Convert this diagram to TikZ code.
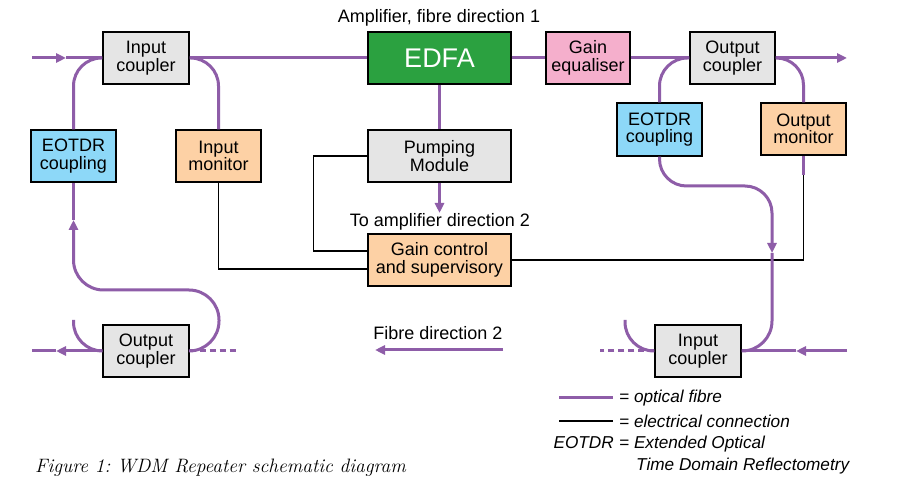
\documentclass[tikz,border=0pt]{standalone}
\usepackage{fontspec}
\setmainfont{Liberation Sans}
\newfontfamily\capfont{Latin Modern Roman}
\usetikzlibrary{arrows.meta}
\definecolor{fib}{HTML}{8E5DA8}
\definecolor{cgray}{HTML}{E5E5E5}
\definecolor{cblue}{HTML}{8DD8F8}
\definecolor{cpeach}{HTML}{FDD1A5}
\definecolor{cpink}{HTML}{F5AFCC}
\definecolor{cgreen}{HTML}{2BA140}
\tikzset{
  box/.style={draw=black, line width=1.3pt, minimum height=52pt, inner sep=0pt, align=center,
    font=\fontsize{18}{17.5}\selectfont},
  fibre/.style={draw=fib, line width=3pt},
  elec/.style={draw=black, line width=1.2pt},
  arr/.style={-{Triangle[length=10pt,width=9pt]}},
  dashfib/.style={fibre, dash pattern=on 6pt off 4pt},
  lbl/.style={font=\fontsize{18}{18}\selectfont, inner sep=0pt},
  leg/.style={font=\fontsize{17.2}{19}\selectfont\itshape, inner sep=0pt}
}
\begin{document}
\frenchspacing
\begin{tikzpicture}[x=1pt,y=-1pt]
\useasboundingbox (0,0) rectangle (903,494);
\fill[white] (0,0) rectangle (903,494);

% boxes
\node[box,fill=cgray,minimum width=86pt] (incL) at (146,58) {Input\\coupler};
\node[box,fill=cblue,minimum width=85pt] (eotdrL) at (73.5,156) {EOTDR\\coupling};
\node[box,fill=cpeach,minimum width=85pt] (inmon) at (218.5,156) {Input\\monitor};
\node[box,fill=cgreen,minimum width=143pt,text=white,font=\fontsize{27}{27}\selectfont] (edfa) at (439.5,58) {EDFA};
\node[box,fill=cgray,minimum width=143pt] (pump) at (439.5,156) {Pumping\\Module};
\node[box,fill=cpeach,minimum width=143pt] (gainctl) at (439.5,260) {Gain control\\and supervisory};
\node[box,fill=cpink,minimum width=84pt] (geq) at (588,58) {Gain\\equaliser};
\node[box,fill=cgray,minimum width=85pt] (outcT) at (732.5,58) {Output\\coupler};
\node[box,fill=cblue,minimum width=85pt,minimum height=53pt] (eotdrR) at (659.5,129.5) {EOTDR\\coupling};
\node[box,fill=cpeach,minimum width=85pt] (outmon) at (803.5,129) {Output\\monitor};
\node[box,fill=cgray,minimum width=86pt] (outcB) at (146,351) {Output\\coupler};
\node[box,fill=cgray,minimum width=86pt] (incB) at (698,351) {Input\\coupler};

% labels
\node[lbl,anchor=base] (amp1) at (439,23) {Amplifier, fibre direction 1};
\node[lbl,anchor=base] (amp2) at (440,227) {To amplifier direction 2};
\node[lbl,anchor=base] (fd2) at (438,340) {Fibre direction 2};

% electrical connections
\coordinate (omj) at (803.5,175);
\draw[elec] (pump.west) -- ++(-54,0) |- ([yshift=9pt]gainctl.west);
\draw[elec] (inmon.south) |- ([yshift=-9pt]gainctl.west);
\draw[elec] (gainctl.east) -| (omj);

% top fibre
\coordinate (inL) at (32,58);
\coordinate (aL) at (66,58);
\coordinate (outT) at (847,58);
\draw[fibre,arr] (inL) -- (aL);
\draw[fibre] (aL) -- (incL.west);
\draw[fibre] (incL.east) -- (edfa.west);
\draw[fibre] (edfa.east) -- (geq.west);
\draw[fibre] (geq.east) -- (outcT.west);
\draw[fibre,arr] (outcT.east) -- (outT);

\draw[fibre,rounded corners=28pt] (incL.west) -| (eotdrL.north);
\draw[fibre,rounded corners=28pt] (incL.east) -| (inmon.north);
\draw[fibre,rounded corners=28pt] (outcT.west) -| (eotdrR.north);
\draw[fibre,rounded corners=27pt] (outcT.east) -| (outmon.north);
\draw[fibre] (omj) -- (outmon.south);

% pump
\coordinate (pa) at (439.5,213);
\draw[fibre] (edfa.south) -- (pump.north);
\draw[fibre,arr] (pump.south) -- (pa);

% right EOTDR loop
\coordinate (r1) at (659.5,186);
\coordinate (r2) at (772,186);
\coordinate (ra) at (772,253);
\coordinate (r3) at (772,351);
\draw[fibre,rounded corners=27pt,arr] (eotdrR.south) -- (r1) -- (r2) -- (ra);
\draw[fibre,rounded corners=30pt] (ra) -- (r3) -- (incB.east);

% bottom right
\coordinate (inR) at (847,351);
\coordinate (aR) at (796,351);
\coordinate (bR) at (625,320);
\coordinate (dR) at (600,351);
\draw[fibre,arr] (inR) -- (aR);
\draw[fibre] (aR) -- (incB.east);
\draw[fibre,rounded corners=29pt] (incB.west) -| (bR);
\draw[dashfib] (incB.west) -- (dR);

% bottom left
\coordinate (outL) at (32,351);
\coordinate (aL2) at (56,351);
\coordinate (bL) at (73.5,320);
\coordinate (dL) at (239,351);
\draw[fibre,arr] (outcB.west) -- (aL2);
\draw[fibre] (aL2) -- (outL);
\draw[fibre,rounded corners=29pt] (outcB.west) -| (bL);
\draw[dashfib] (outcB.east) -- (dL);

% left loop
\coordinate (l1) at (219,351);
\coordinate (l2) at (219,290);
\coordinate (l3) at (73.5,290);
\coordinate (la) at (73.5,220);
\draw[fibre,rounded corners=30pt,arr] (outcB.east) -- (l1) -- (l2) -- (l3) -- (la);
\draw[fibre] (la) -- (eotdrL.south);

% fibre direction 2 arrow
\coordinate (f2a) at (503,350);
\coordinate (f2b) at (375,350);
\draw[fibre,arr] (f2a) -- (f2b);

% legend
\coordinate (lg1a) at (559,398);
\coordinate (lg1b) at (613,398);
\coordinate (lg2a) at (559,421);
\coordinate (lg2b) at (613,421);
\draw[fibre] (lg1a) -- (lg1b);
\draw[elec] (lg2a) -- (lg2b);
\node[leg,anchor=west] (lt1) at (619,398) {= optical fibre};
\node[leg,anchor=west] (lt2) at (619,421) {= electrical connection};
\node[leg,anchor=base east] (lt3) at (614,449) {EOTDR};
\node[leg,anchor=base west] (lt4) at (619,449) {= Extended Optical};
\node[leg,anchor=base west] (lt5) at (636,470) {Time Domain Reflectometry};

% caption
\node[anchor=base west,inner sep=0pt,font=\capfont\itshape\fontsize{19.4}{21}\selectfont] (cap) at (35,472) {Figure 1: WDM Repeater schematic diagram};
\end{tikzpicture}
\end{document}
